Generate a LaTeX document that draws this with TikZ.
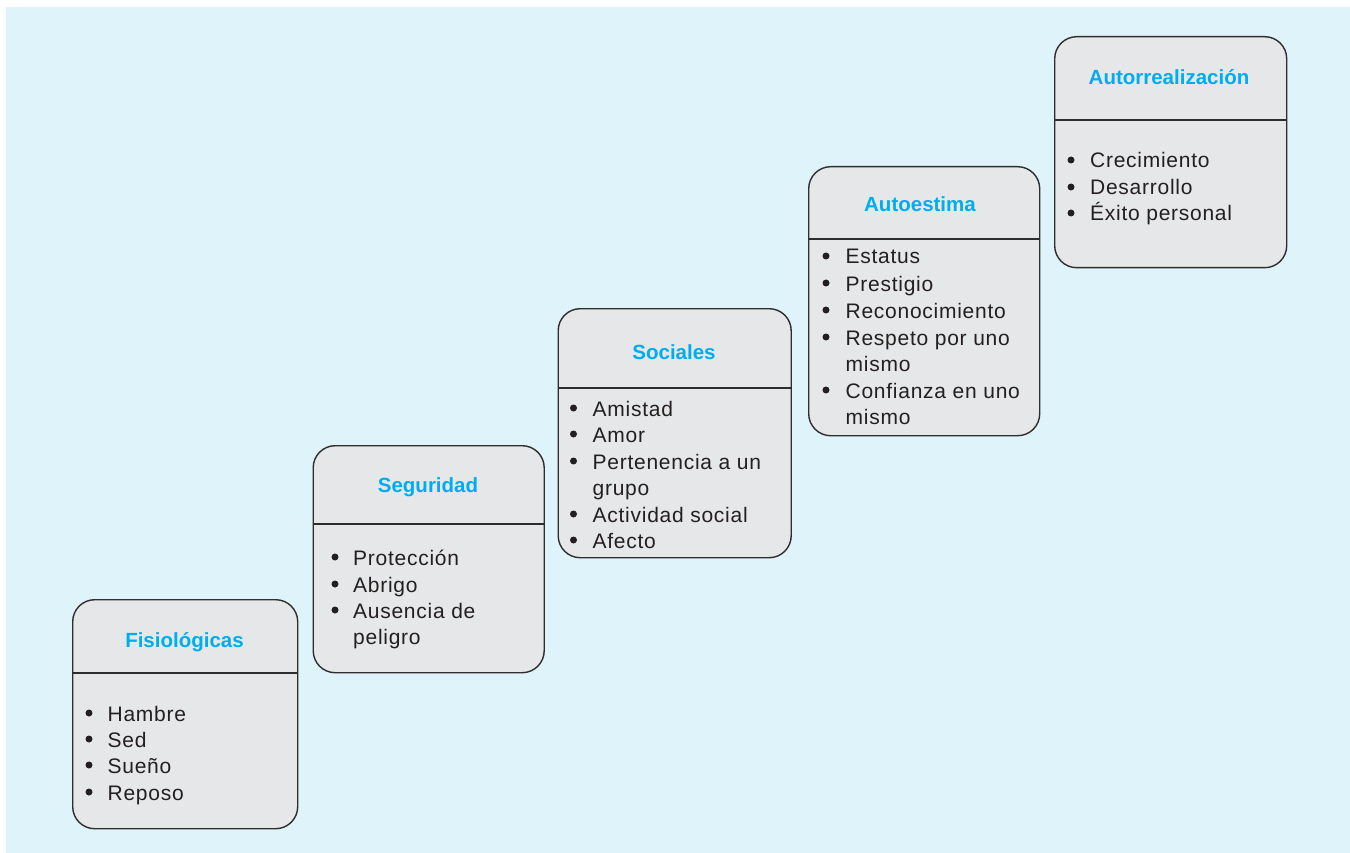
\documentclass[tikz,border=0pt]{standalone}
\usepackage{fontspec}
\setmainfont{Liberation Sans}
\newfontfamily\bodyfont{Liberation Sans}[LetterSpace=3.5]
\definecolor{bgblue}{HTML}{DFF3FA}
\definecolor{boxgray}{HTML}{E6E7E8}
\definecolor{titlecyan}{RGB}{0,174,239}
\definecolor{textdark}{HTML}{231F20}
\definecolor{edgedark}{HTML}{2E2E2E}
\tikzset{
  stepbox/.style={draw=edgedark, line width=1.4pt, fill=boxgray, rounded corners=22pt, anchor=north west, inner sep=0pt},
  divline/.style={draw=edgedark, line width=1.4pt},
  ttl/.style={anchor=base, inner sep=0pt, text=titlecyan, font=\fontsize{20.5}{24}\selectfont\bfseries},
  bul/.style={circle, fill=textdark, inner sep=0pt, minimum size=7pt, yshift=8pt},
  itm/.style={anchor=base west, inner sep=0pt, text=textdark, font=\bodyfont\fontsize{21}{25}\selectfont},
}
\begin{document}
\begin{tikzpicture}[x=1pt,y=-1pt]
\useasboundingbox (0,0) rectangle (1350,853);
\fill[bgblue] (6,7) rectangle (1350,853);

% Box 1: Fisiologicas
\node[stepbox, minimum width=225pt, minimum height=229pt] (b1) at (72,599) {};
\draw[divline] (b1.west |- 0,673) -- (b1.east |- 0,673);
\node[ttl] (t1) at (184.5,647) {Fisiológicas};
\node[bul] (p1a) at (89,721) {}; \node[itm] (i1a) at (107.5,721) {Hambre};
\node[bul] (p1b) at (89,747) {}; \node[itm] (i1b) at (107.5,747) {Sed};
\node[bul] (p1c) at (89,773) {}; \node[itm] (i1c) at (107.5,773) {Sueño};
\node[bul] (p1d) at (89,800) {}; \node[itm] (i1d) at (107.5,800) {Reposo};

% Box 2: Seguridad
\node[stepbox, minimum width=231pt, minimum height=227pt] (b2) at (312.5,445) {};
\draw[divline] (b2.west |- 0,524) -- (b2.east |- 0,524);
\node[ttl] (t2) at (428,492) {Seguridad};
\node[bul] (p2a) at (335,565) {}; \node[itm] (i2a) at (353,565) {Protección};
\node[bul] (p2b) at (335,592) {}; \node[itm] (i2b) at (353,592) {Abrigo};
\node[bul] (p2c) at (335,618) {}; \node[itm] (i2c) at (353,618) {Ausencia de};
\node[itm] (i2d) at (353,644) {peligro};

% Box 3: Sociales
\node[stepbox, minimum width=233pt, minimum height=249pt] (b3) at (557.5,308) {};
\draw[divline] (b3.west |- 0,388) -- (b3.east |- 0,388);
\node[ttl] (t3) at (674,359) {Sociales};
\node[bul] (p3a) at (573.5,416) {}; \node[itm] (i3a) at (592.5,416) {Amistad};
\node[bul] (p3b) at (573.5,442) {}; \node[itm] (i3b) at (592.5,442) {Amor};
\node[bul] (p3c) at (573.5,469) {}; \node[itm] (i3c) at (592.5,469) {Pertenencia a un};
\node[itm] (i3d) at (592.5,495) {grupo};
\node[bul] (p3e) at (573.5,522) {}; \node[itm] (i3e) at (592.5,522) {Actividad social};
\node[bul] (p3f) at (573.5,548) {}; \node[itm] (i3f) at (592.5,548) {Afecto};

% Box 4: Autoestima
\node[stepbox, minimum width=231pt, minimum height=269pt] (b4) at (808,166) {};
\draw[divline] (b4.west |- 0,239) -- (b4.east |- 0,239);
\node[ttl] (t4) at (920,212) {Autoestima};
\node[bul] (p4a) at (826,264) {}; \node[itm] (i4a) at (845.5,264) {Estatus};
\node[bul] (p4b) at (826,291) {}; \node[itm] (i4b) at (845.5,291) {Prestigio};
\node[bul] (p4c) at (826,318) {}; \node[itm] (i4c) at (845.5,318) {Reconocimiento};
\node[bul] (p4d) at (826,345) {}; \node[itm] (i4d) at (845.5,345) {Respeto por uno};
\node[itm] (i4e) at (845.5,371) {mismo};
\node[bul] (p4f) at (826,398) {}; \node[itm] (i4f) at (845.5,398) {Confianza en uno};
\node[itm] (i4g) at (845.5,424) {mismo};

% Box 5: Autorrealizacion
\node[stepbox, minimum width=232pt, minimum height=231pt] (b5) at (1054,36) {};
\draw[divline] (b5.west |- 0,120) -- (b5.east |- 0,120);
\node[ttl] (t5) at (1169,85) {Autorrealización};
\node[bul] (p5a) at (1071,168) {}; \node[itm] (i5a) at (1090,168) {Crecimiento};
\node[bul] (p5b) at (1071,195) {}; \node[itm] (i5b) at (1090,195) {Desarrollo};
\node[bul] (p5c) at (1071,221) {}; \node[itm] (i5c) at (1090,221) {Éxito personal};
\end{tikzpicture}
\end{document}
